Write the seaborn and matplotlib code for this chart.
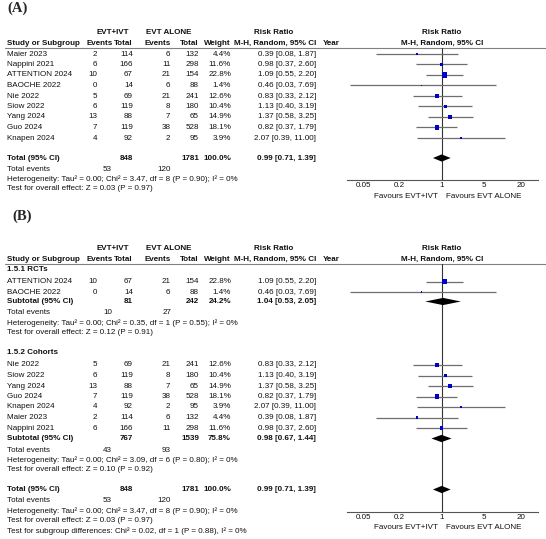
import pandas as pd
import seaborn as sns
import matplotlib.pyplot as plt
from matplotlib.ticker import NullLocator

# Study level data
studies = ['Maier 2023', 'Nappini 2021', 'ATTENTION 2024', 'BAOCHE 2022', 'Nie 2022',
           'Siow 2022', 'Yang 2024', 'Guo 2024', 'Knapen 2024']
ev1 = [2, 6, 10, 0, 5, 6, 13, 7, 4]
tot1 = [114, 166, 67, 14, 69, 119, 88, 119, 92]
ev2 = [6, 11, 21, 6, 21, 8, 7, 38, 2]
tot2 = [132, 298, 154, 88, 241, 180, 65, 528, 95]
weight = [4.4, 11.6, 22.8, 1.4, 12.6, 10.4, 14.9, 18.1, 3.9]
rr = [0.39, 0.98, 1.09, 0.46, 0.83, 1.13, 1.37, 0.82, 2.07]
lo = [0.08, 0.37, 0.55, 0.03, 0.33, 0.40, 0.58, 0.37, 0.39]
hi = [1.87, 2.60, 2.20, 7.69, 2.12, 3.19, 3.25, 1.79, 11.00]

# Subgroups for panel B (indices into the study lists)
rct_idx = [2, 3]
cohort_idx = [4, 5, 6, 7, 8, 0, 1]

# Pooled results
total = dict(tot1=848, tot2=1781, w='100.0%', rr=0.99, lo=0.71, hi=1.39, ev1=53, ev2=120,
             het='Heterogeneity: Tau\u00b2 = 0.00; Chi\u00b2 = 3.47, df = 8 (P = 0.90); I\u00b2 = 0%',
             z='Test for overall effect: Z = 0.03 (P = 0.97)')
rct_sub = dict(tot1=81, tot2=242, w='24.2%', rr=1.04, lo=0.53, hi=2.05, ev1=10, ev2=27,
               het='Heterogeneity: Tau\u00b2 = 0.00; Chi\u00b2 = 0.35, df = 1 (P = 0.55); I\u00b2 = 0%',
               z='Test for overall effect: Z = 0.12 (P = 0.91)')
coh_sub = dict(tot1=767, tot2=1539, w='75.8%', rr=0.98, lo=0.67, hi=1.44, ev1=43, ev2=93,
               het='Heterogeneity: Tau\u00b2 = 0.00; Chi\u00b2 = 3.09, df = 6 (P = 0.80); I\u00b2 = 0%',
               z='Test for overall effect: Z = 0.10 (P = 0.92)')
subgroup_test = 'Test for subgroup differences: Chi\u00b2 = 0.02, df = 1 (P = 0.88), I\u00b2 = 0%'

tick_vals = [0.05, 0.2, 1, 5, 20]
tick_labels = ['0.05', '0.2', '1', '5', '20']

sns.set_style('white')
plt.rcParams['font.family'] = ['Liberation Sans', 'DejaVu Sans']

W, H = 546, 539
fig = plt.figure(figsize=(W / 100, H / 100), dpi=100)
base = fig.add_axes([0, 0, 1, 1])
base.set_xlim(0, W)
base.set_ylim(H, 0)
base.axis('off')

FS = 5.8
X_NAME, X_EV1, X_TOT1, X_EV2, X_TOT2, X_W, X_RR = 7, 97, 133, 170.5, 199, 231, 316
FX0, FX1 = 346.7, 538.3
XLIM = (0.0266, 39.1)
ROW = 10.5


def txt(x, y, s, ha='left', bold=False):
    base.text(x, y, s, ha=ha, va='center', fontsize=FS,
              fontweight='bold' if bold else 'normal', color='#111111')


def header(y1):
    y2 = y1 + 10.3
    txt(112.5, y1, 'EVT+IVT', 'center', True)
    txt(169, y1, 'EVT ALONE', 'center', True)
    txt(274, y1, 'Risk Ratio', 'center', True)
    txt(442, y1, 'Risk Ratio', 'center', True)
    txt(X_NAME, y2, 'Study or Subgroup', bold=True)
    txt(113, y2, 'Events', 'right', True)
    txt(X_TOT1, y2, 'Total', 'right', True)
    txt(171, y2, 'Events', 'right', True)
    txt(X_TOT2, y2, 'Total', 'right', True)
    txt(X_W, y2, 'Weight', 'right', True)
    txt(X_RR, y2, 'M-H, Random, 95% CI', 'right', True)
    txt(323, y2, 'Year', bold=True)
    txt(442, y2, 'M-H, Random, 95% CI', 'center', True)
    yline = y2 + 5
    base.plot([5, W], [yline, yline], color='#808080', lw=0.8)
    return yline


def study_rows(idx, y0):
    ys = [y0 + k * ROW for k in range(len(idx))]
    for i, y in zip(idx, ys):
        txt(X_NAME, y, studies[i])
        txt(X_EV1, y, str(ev1[i]), 'right')
        txt(X_TOT1, y, str(tot1[i]), 'right')
        txt(X_EV2, y, str(ev2[i]), 'right')
        txt(X_TOT2, y, str(tot2[i]), 'right')
        txt(X_W, y, f'{weight[i]:.1f}%', 'right')
        txt(X_RR, y, f'{rr[i]:.2f} [{lo[i]:.2f}, {hi[i]:.2f}]', 'right')
    return ys


def pooled_rows(label, p, y):
    txt(X_NAME, y, label, bold=True)
    txt(X_TOT1, y, str(p['tot1']), 'right', True)
    txt(X_TOT2, y, str(p['tot2']), 'right', True)
    txt(X_W, y, p['w'], 'right', True)
    txt(X_RR, y, f"{p['rr']:.2f} [{p['lo']:.2f}, {p['hi']:.2f}]", 'right', True)
    txt(X_NAME, y + 11.5, 'Total events')
    txt(112, y + 11.5, str(p['ev1']), 'right')
    txt(171, y + 11.5, str(p['ev2']), 'right')
    txt(X_NAME, y + 21.5, p['het'])
    txt(X_NAME, y + 31, p['z'])


def forest_axes(ytop, ybot):
    ax = fig.add_axes([FX0 / W, 1 - ybot / H, (FX1 - FX0) / W, (ybot - ytop) / H])
    ax.patch.set_alpha(0)
    return ax


def finish_forest(ax, ytop, ybot):
    ax.set_xscale('log')
    ax.set_xlim(*XLIM)
    ax.set_ylim(ybot, ytop)
    for s in ['top', 'left', 'right']:
        ax.spines[s].set_visible(False)
    ax.spines['bottom'].set_color('#555555')
    ax.spines['bottom'].set_linewidth(0.8)
    ax.set_xticks(tick_vals)
    ax.set_xticklabels(tick_labels)
    ax.xaxis.set_minor_locator(NullLocator())
    ax.tick_params(axis='x', direction='in', length=4, width=0.8, color='#555555',
                   labelsize=FS, pad=1.5, labelcolor='#111111')
    ax.set_yticks([])
    ax.set_xlabel('')
    ax.set_ylabel('')
    ax.axvline(1, color='#333333', lw=0.8, zorder=1)
    txt(438, ybot + 16, 'Favours EVT+IVT', 'right')
    txt(446, ybot + 16, 'Favours EVT ALONE')


def draw_studies(ax, idx, ys):
    df = pd.DataFrame({'rr': [rr[i] for i in idx], 'y': ys,
                       'weight': [weight[i] for i in idx]})
    ax.hlines(ys, [lo[i] for i in idx], [hi[i] for i in idx], color='#6e6e6e', lw=0.9, zorder=2)
    sns.scatterplot(data=df, x='rr', y='y', size='weight', sizes=(0, 13), size_norm=(0, 22.8),
                    marker='s', color='#0000cc', edgecolor='none', legend=False, ax=ax, zorder=3)


def diamond(ax, p, y, h=3.6):
    ax.fill([p['lo'], p['rr'], p['hi'], p['rr']], [y, y - h, y, y + h],
            color='black', lw=0, zorder=3)


# ---------------- Panel A ----------------
base.text(7.5, 8.7, '(A)', fontfamily='Liberation Serif', fontweight='bold',
          fontsize=10.5, va='center')
lineA = header(33)
idxA = list(range(len(studies)))
ysA = study_rows(idxA, 54)
yTotA = 158
pooled_rows('Total (95% CI)', total, yTotA)
axA = forest_axes(lineA, 180)
draw_studies(axA, idxA, ysA)
diamond(axA, total, yTotA)
finish_forest(axA, lineA, 180)

# ---------------- Panel B ----------------
base.text(12, 216.5, '(B)', fontfamily='Liberation Serif', fontweight='bold',
          fontsize=10.5, va='center')
lineB = header(249)
txt(X_NAME, 269.5, '1.5.1 RCTs', bold=True)
ysR = study_rows(rct_idx, 281.5)
ySubR = 301.5
pooled_rows('Subtotal (95% CI)', rct_sub, ySubR)
txt(X_NAME, 353, '1.5.2 Cohorts', bold=True)
ysC = study_rows(cohort_idx, 365)
ySubC = 438.5
pooled_rows('Subtotal (95% CI)', coh_sub, ySubC)
yTotB = 489.5
pooled_rows('Total (95% CI)', total, yTotB)
txt(X_NAME, 531.5, subgroup_test)

axB = forest_axes(lineB, 511.7)
draw_studies(axB, rct_idx, ysR)
draw_studies(axB, cohort_idx, ysC)
diamond(axB, rct_sub, ySubR)
diamond(axB, coh_sub, ySubC)
diamond(axB, total, yTotB)
finish_forest(axB, lineB, 511.7)

fig.savefig('out.png', dpi=100)
